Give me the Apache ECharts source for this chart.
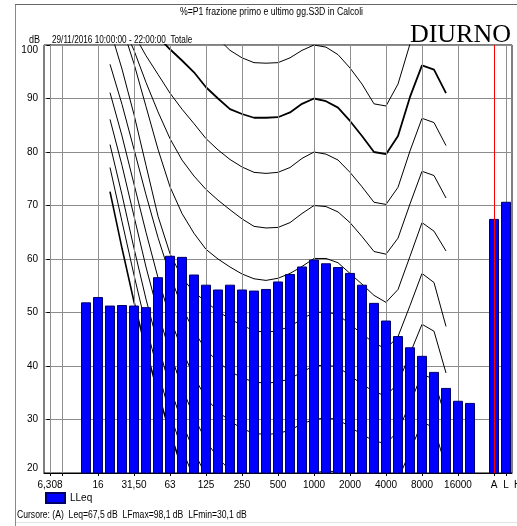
<!DOCTYPE html>
<html>
<head>
<meta charset="utf-8">
<script src="https://cdn.jsdelivr.net/npm/echarts@6/dist/echarts.min.js"></script>
<style>
  html, body { margin: 0; padding: 0; background: #ffffff; }
  #chart { width: 517px; height: 526px; }
</style>
</head>
<body>
<div id="chart"></div>
<script>
// Third-octave bands plus the overall A / L bars
const bands = ['6.3','8','10','12.5','16','20','25','31.5','40','50','63','80','100','125','160','200','250','315','400','500','630','800','1000','1250','1600','2000','2500','3150','4000','5000','6300','8000','10000','12500','16000','20000','','A','L'];

// Bands that carry a grid line and tick, with the text printed under each
const gridBands = ['6.3','8','16','31.5','63','125','250','500','1000','2000','4000','8000','16000','A','L'];
const gridBandText = ['6,308','','16','31,50','63','125','250','500','1000','2000','4000','8000','16000','A','L'];

// LLeq per band (dB), same order as bands
const lleq = [null, null, null,
  51.9, 52.9, 51.3, 51.4, 51.3, 51.0, 56.6, 60.6, 60.4, 57.1,
  55.2, 54.3, 55.2, 54.3, 54.1, 54.4, 55.8, 57.2, 58.6, 59.9,
  59.2, 58.5, 57.4, 55.2, 51.8, 48.5, 45.6, 43.5, 41.9, 38.9,
  35.9, 33.5, 33.1,
  null, 67.5, 70.7];

const cursorBand = 'A';
const lfMax = 98.1;
const lfMin = 30.1;

// Isophonic curves, 20 Hz .. 12500 Hz (dB)
const iso100 = [150,140,131,123,116,111,107.5,105,103,101.2,99.0,97.6,96.7,96.6,96.7,97.6,99.0,100,99.6,98.2,95.7,92.7,89.0,88.6,92.7,100.2,106,105.4,101];
const iso90  = [117,112,108,104.5,101.5,99.2,97.1,94.9,92.1,90.0,88.0,87.1,86.4,86.4,86.5,87.4,89.0,90,89.5,88.3,85.8,83.0,80.0,79.6,83.0,90.3,96.2,95.4,91.0];
const iso80  = [112,106,102,98,94.5,91,88,85.3,82.5,80.4,78.6,77.2,76.2,76.0,76.2,77.1,78.8,80,79.6,78.5,76.2,73.5,70.6,70.2,73.4,80.2,86.3,85.5,81.2];
const iso70  = [109,104,99,93,87.5,82.5,78.5,75.5,73,71,69.2,67.5,66.1,65.8,65.9,66.8,68.5,70,69.8,68.8,66.8,64.2,61.4,60.9,63.9,70.3,76.4,75.6,71.4];
const iso60  = [111,103.5,96.5,88.5,80.5,73.5,68.5,64.8,61.8,60,58.5,57.2,56.3,56.0,56.4,57.3,58.6,60.1,60.1,59.3,57.3,55.3,53.2,51.9,54.3,60.5,66.8,65.2,61.5];
const iso50  = [103,95.5,87,77.5,68,61,56.5,53.8,52,50.2,48.8,47.6,46.6,46.3,46.6,47.4,48.8,50,50.1,49.6,47.8,46,44.3,43.2,45.5,51.3,57.3,55.6,47.4];
const iso40  = [96.4,88.9,80.5,72,64,57,51,46.5,43,40.8,39,37.8,37,36.8,37,37.6,38.9,40,40.2,39.8,38.2,36.6,35.2,34.4,36.8,42.3,47.8,46.5,38.7];
const iso30  = [91.1,83,74,65,56.5,49,43,38,34,31.5,29.7,28.3,27.4,27.2,27.4,28,29.2,30,30.3,30,28.6,27.2,26,25.5,27.8,33,38.5,37.5,30];
const iso20  = [86.1,77.5,68,58.5,50,42.5,36,30.5,26,22.8,20.5,18.9,17.9,17.6,17.8,18.4,19.5,20,20.4,20.2,19,17.8,16.6,16.4,18.8,24,29.5,28.5,21];
const iso10  = [81.4,72,62,52.5,44,36,29.5,24,19.5,16,13,11,9.5,9,9,9.5,10,10,10.5,10.3,9.2,8,7,6.8,9,14,20,19,12];
const iso0   = [77.1,67,57,47.5,39,31,24.5,19,14.5,11,8,6,4.5,4,4,4,4,4,4.5,4,3,2,1,0.5,2.5,7,12,11,4];
const isoThr = [72.6,62,52,43,35,27.5,21,15.5,11,7.5,5,3,1.5,1,1,1,1,1,1.5,1,0,-1,-2,-2.5,-0.5,4,9,8,1];

const curves = [
  { data: iso100, width: 1 }, { data: iso90, width: 1.8 }, { data: iso80, width: 1 },
  { data: iso70, width: 1 }, { data: iso60, width: 1 }, { data: iso50, width: 1 },
  { data: iso40, width: 1 }, { data: iso30, width: 1 }, { data: iso20, width: 1 },
  { data: iso10, width: 1 }, { data: iso0, width: 1 }, { data: isoThr, width: 1.6 }
];

// curves start at the 20 Hz band and stop at 12500 Hz
const firstCurveBand = bands.indexOf('20');
const padCurve = arr => bands.map((b, i) => {
  const k = i - firstCurveBand;
  return (k >= 0 && k < arr.length) ? arr[k] : null;
});

const fmt = v => v.toFixed(1).replace('.', ',');
const cursorValue = lleq[bands.indexOf(cursorBand)];
const bandText = v => { const k = gridBands.indexOf(v); return k >= 0 ? gridBandText[k] : ''; };

const sans = "'Liberation Sans', Arial, sans-serif";
const yMin = 20, yMax = 100;

// plot box: 12 px per band
const plotLeft = 44, plotTop = 45, bandPx = 12, plotHeight = 428;
const plotWidth = bandPx * bands.length;
// half-pixel shift so 1 px rules land on whole pixels
const ruleShift = 0.5 / bandPx;

const chart = echarts.init(document.getElementById('chart'), null, { renderer: 'canvas' });

// vertical rules across the plot, drawn on the hidden band-index axis
const rule = (band, color, z) => ({
  type: 'line', xAxisIndex: 1, silent: true, z: z, animation: false,
  showSymbol: false, symbol: 'none',
  data: [[bands.indexOf(band), yMin], [bands.indexOf(band), yMax]],
  lineStyle: { color: color, width: 1 }
});

const gridRules = gridBands.map(b => rule(b, '#8f8f8f', 4));

const curveSeries = curves.map(c => ({
  type: 'line', data: padCurve(c.data), silent: true, z: 4,
  showSymbol: false, symbol: 'none', connectNulls: false, clip: true,
  lineStyle: { color: '#000000', width: c.width },
  animation: false
}));

const barSeries = {
  name: 'LLeq', type: 'bar', data: lleq, z: 5, barWidth: 10,
  itemStyle: { color: '#0000ff', borderColor: '#00006a', borderWidth: 1 },
  animation: false
};

const cursorRule = rule(cursorBand, '#ff0000', 6);

// text helper: scaled horizontally to get a condensed look
const condensed = (left, top, text, size, sx) => ({
  type: 'text', silent: true, x: left, y: top, scaleX: sx,
  style: { text: text, fill: '#000', font: size + 'px ' + sans, textVerticalAlign: 'middle' }
});

chart.setOption({
  animation: false,
  backgroundColor: '#ffffff',
  textStyle: { fontFamily: sans },
  legend: {
    data: ['LLeq'], left: 45, top: 492, icon: 'rect', padding: 0,
    itemWidth: 19, itemHeight: 10, itemGap: 4,
    textStyle: { fontSize: 10, color: '#000', fontFamily: sans }
  },
  grid: {
    left: plotLeft, top: plotTop, width: plotWidth, height: plotHeight,
    show: true, borderColor: '#000', borderWidth: 1
  },
  xAxis: [{
    type: 'category', data: bands, boundaryGap: true,
    axisLine: { show: true, lineStyle: { color: '#000', width: 1 } },
    axisTick: {
      show: true, alignWithLabel: true, length: 3,
      interval: (i, v) => gridBands.includes(v),
      lineStyle: { color: '#000' }
    },
    axisLabel: {
      interval: (i, v) => gridBands.includes(v),
      formatter: bandText,
      hideOverlap: false,
      fontSize: 10, color: '#000', margin: 7, fontFamily: sans
    },
    splitLine: { show: false }
  }, {
    type: 'value', show: false,
    min: -0.5 - ruleShift, max: bands.length - 0.5 - ruleShift
  }],
  yAxis: {
    type: 'value', min: yMin, max: yMax, interval: 10,
    axisLine: { show: true, lineStyle: { color: '#000', width: 1 } },
    axisTick: { show: true, length: 4, lineStyle: { color: '#000' } },
    axisLabel: {
      fontSize: 10, color: '#000', margin: 6, fontFamily: sans,
      verticalAlignMinLabel: 'bottom', verticalAlignMaxLabel: 'top'
    },
    splitLine: { show: true, lineStyle: { color: '#8c8c8c', width: 1 } }
  },
  graphic: [
    { type: 'line', silent: true, shape: { x1: 15.5, y1: 4, x2: 15.5, y2: 526 }, style: { stroke: '#8a8a8a', lineWidth: 1 } },
    { type: 'line', silent: true, shape: { x1: 15, y1: 4.5, x2: 517, y2: 4.5 }, style: { stroke: '#666', lineWidth: 1 } },
    { type: 'line', silent: true, shape: { x1: 16, y1: 522.5, x2: 517, y2: 522.5 }, style: { stroke: '#e2e2e2', lineWidth: 1 } },
    condensed(180, 12, '%=P1 frazione primo e ultimo gg.S3D in Calcoli', 10, 0.87),
    condensed(29, 40, 'dB', 10, 0.9),
    condensed(52, 40, '29/11/2016 10:00:00 - 22:00:00  Totale', 10, 0.82),
    { type: 'text', silent: true, right: 6, top: 22, style: { text: 'DIURNO', fill: '#000', font: "26px 'Liberation Serif', 'Times New Roman', serif" } },
    { type: 'text', silent: true, left: 514, top: 480, style: { text: 'H', fill: '#000', font: '10px ' + sans } },
    condensed(17, 515, 'Cursore: (' + cursorBand + ')  Leq=' + fmt(cursorValue) + ' dB  LFmax=' + fmt(lfMax) + ' dB  LFmin=' + fmt(lfMin) + ' dB', 10, 0.86)
  ],
  // rules listed after the bars; z keeps them underneath
  series: [...curveSeries, barSeries, ...gridRules, cursorRule]
});
</script>
</body>
</html>
